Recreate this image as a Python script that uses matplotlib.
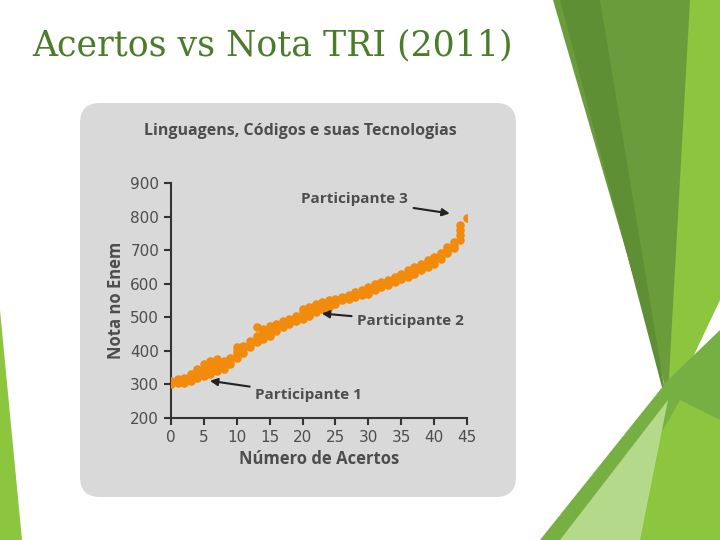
import matplotlib
matplotlib.use("Agg")
import matplotlib.pyplot as plt
from matplotlib.patches import Polygon, FancyBboxPatch

acertos_groups = {
0:[300,310],1:[305,315],2:[310,320,305],3:[315,325,330,310],4:[320,340,330,345],
5:[330,350,340,360,325],6:[335,355,370,345,330],7:[340,360,375,350],8:[345,365,355,370],
9:[360,380,370],10:[380,400,390,410],11:[395,415,405],12:[410,430,420],13:[425,445,470,435],
14:[435,455,465],15:[445,465,475,455],16:[460,480,470],17:[470,490,480],18:[480,495,490],
19:[490,505,500],20:[495,515,505,525,500],21:[505,520,530,510],22:[515,530,540],
23:[525,540,545],24:[530,545,550],25:[540,555,550],26:[550,560],27:[555,565],
28:[560,570,575],29:[565,580,575],30:[570,590,580],31:[580,595,600],32:[590,605],
33:[595,610,605],34:[605,620,615],35:[615,630,625],36:[620,640,630],37:[630,645,650],
38:[640,660,650],39:[650,670,660],40:[660,680,670],41:[675,690,685],42:[690,710,700],
43:[705,725,715],44:[730,760,745,775],45:[795]}
acertos = [x for x, ys in acertos_groups.items() for _ in ys]
notas = [y for ys in acertos_groups.values() for y in ys]
xticks = list(range(0, 50, 5))
yticks = list(range(200, 1000, 100))

fig = plt.figure(figsize=(7.2, 5.4), dpi=100)
bg = fig.add_axes([0, 0, 1, 1])
bg.set_xlim(0, 720); bg.set_ylim(540, 0); bg.axis("off")
polys = [
    ([(600,0),(720,0),(720,300),(668,410)], "#8cc63e"),
    ([(553,0),(690,0),(668,395)], "#6a9c3c"),
    ([(560,0),(600,0),(668,410)], "#5f8f35"),
    ([(540,540),(668,380),(720,330),(720,540)], "#76b043"),
    ([(600,540),(680,400),(720,420),(720,540)], "#8cc63e"),
    ([(560,540),(668,400),(640,540)], "#b5d98a"),
    ([(0,310),(0,540),(22,540)], "#8cc63e"),
]
for pts, c in polys:
    bg.add_patch(Polygon(pts, closed=True, color=c, lw=0))
bg.add_patch(FancyBboxPatch((88,111),420,378, boxstyle="round,pad=8,rounding_size=20",
                            fc="#d9d9d9", ec="none"))
bg.text(32, 45, "Acertos vs Nota TRI (2011)", fontsize=25, color="#4a7c2a",
        family="DejaVu Serif", va="center", ha="left")
bg.text(300, 131, "Linguagens, Códigos e suas Tecnologias", fontsize=11.5,
        color="#4d4d4d", weight="bold", ha="center", va="center", family="Open Sans")

ax = fig.add_axes([171/720, 1-418/540, 296/720, 235/540])
ax.set_facecolor("none")
ax.scatter(acertos, notas, s=38, color="#f28a0c", zorder=3, linewidths=0)
ax.set_xlim(0, 45); ax.set_ylim(200, 900)
ax.set_xticks(xticks); ax.set_yticks(yticks)
for s in ["top", "right"]:
    ax.spines[s].set_visible(False)
for s in ["left", "bottom"]:
    ax.spines[s].set_color("#333333"); ax.spines[s].set_linewidth(1.5)
ax.tick_params(colors="#333333", labelcolor="#4d4d4d", labelsize=11, width=1.5, length=5)
ax.set_xlabel("Número de Acertos", fontsize=12, weight="bold", color="#4d4d4d", family="Open Sans")
ax.set_ylabel("Nota no Enem", fontsize=12, weight="bold", color="#4d4d4d", family="Open Sans")
ap = dict(arrowstyle="-|>", color="#222222", lw=1.5)
kw = dict(fontsize=11, weight="bold", color="#4d4d4d", family="Open Sans", annotation_clip=False)
ax.annotate("Participante 3", xy=(42.8, 808), xytext=(19.8, 852), arrowprops=ap, va="center", **kw)
ax.annotate("Participante 2", xy=(22.5, 512), xytext=(28.3, 488), arrowprops=ap, va="center", **kw)
ax.annotate("Participante 1", xy=(5.5, 312), xytext=(12.8, 268), arrowprops=ap, va="center", **kw)
fig.savefig("out.png", dpi=100)
